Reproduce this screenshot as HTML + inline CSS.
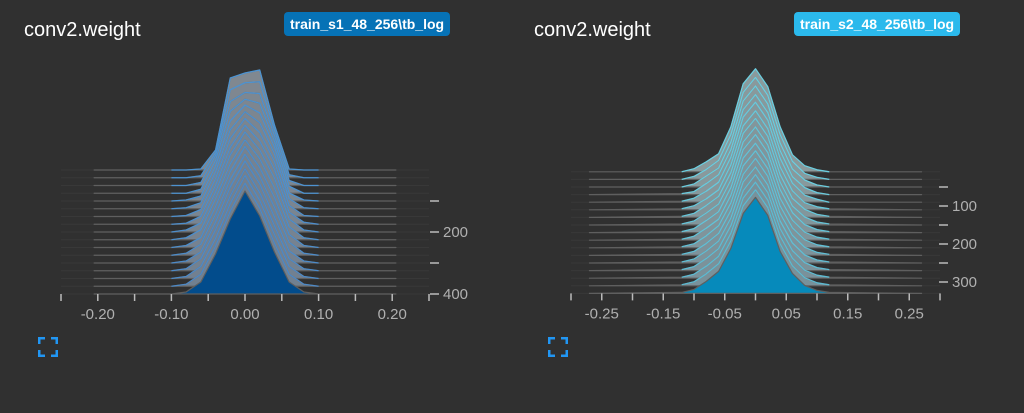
<!DOCTYPE html>
<html><head><meta charset="utf-8"><style>
html,body{margin:0;padding:0;background:#303030;width:1024px;height:413px;overflow:hidden;font-family:"Liberation Sans",sans-serif}
.title{position:absolute;top:19px;color:#fff;font-size:20px}
.badge{position:absolute;top:12px;height:24px;line-height:24px;padding:0 6px;border-radius:4px;color:#fff;font-weight:bold;font-size:14px}
.expand{position:absolute;top:337px;width:20px;height:20px}
svg{position:absolute;left:0;top:0}
</style></head><body>
<div class="title" style="left:24px">conv2.weight</div>
<div class="badge" style="left:284px;background:#0672b6">train_s1_48_256\tb_log</div>
<div class="title" style="left:534px">conv2.weight</div>
<div class="badge" style="left:794px;background:#2bb9ec">train_s2_48_256\tb_log</div>
<svg class="expand" style="left:38px" viewBox="0 0 20 20"><path d="M1 7V1h6M13 1h6v6M19 13v6h-6M7 19H1v-6" fill="none" stroke="#2196f3" stroke-width="3"/></svg>
<svg class="expand" style="left:548px" viewBox="0 0 20 20"><path d="M1 7V1h6M13 1h6v6M19 13v6h-6M7 19H1v-6" fill="none" stroke="#2196f3" stroke-width="3"/></svg>
<svg id="chart" width="1024" height="413"></svg>
<script>
// ---- Left chart data ----
const leftBins = [-0.10,-0.08,-0.06,-0.04,-0.02,0.00,0.02,0.04,0.06,0.08,0.10];
const leftSteps = [0,25,50,75,100,125,150,175,200,225,250,275,300,325,350,375,400];
const leftCounts = [
 [0,0,1,20,92,97,100,45,1,0,0],
 [0,0,2,25,88,95,96,48,3,0,0],
 [0,0,3,30,84,93,92,50,5,0,0],
 [0,0,4,33,82,94,90,52,7,0,0],
 [0,1,5,35,80,96,88,54,8,1,0],
 [0,1,6,37,79,97,86,55,10,1,0],
 [0,1,7,38,78,98,84,55,11,1,0],
 [0,1,8,39,77,99,83,55,12,2,0],
 [0,2,9,40,77,100,82,54,13,2,0],
 [0,2,10,41,76,100,81,52,13,2,0],
 [0,2,10,41,76,101,80,50,13,2,0],
 [0,2,11,41,76,101,79,48,13,2,0],
 [0,2,11,41,76,102,79,46,12,2,0],
 [0,2,12,41,75,102,78,45,12,2,0],
 [0,2,12,40,75,103,78,44,12,2,0],
 [0,2,12,40,75,103,78,43,12,2,0],
 [0,2,12,40,75,103,78,42,12,2,0]
];
const leftXTicks = [-0.20,-0.10,0.00,0.10,0.20];
const leftXTickLabels = ["-0.20","-0.10","0.00","0.10","0.20"];
const leftYTicks = [100,200,300,400];
const leftYTickLabels = ["","200","","400"];
// ---- Right chart data ----
const rightBins = [-0.12,-0.10,-0.08,-0.06,-0.04,-0.02,0.00,0.02,0.04,0.06,0.08,0.10,0.12];
const rightSteps = [10,30,50,70,90,110,130,150,170,190,210,230,250,270,290,310,330];
const rightCounts = [
 [0,3,10,18,45,88,103,85,45,17,6,2,0],
 [0,3,10,19,45,87,102,84,45,18,6,2,0],
 [0,3,11,19,45,86,101,83,44,18,7,2,0],
 [1,3,11,20,45,85,100,82,44,18,7,2,0],
 [1,4,11,20,45,85,100,82,44,19,7,3,0],
 [1,4,11,20,45,84,99,81,43,19,7,3,1],
 [1,4,12,21,45,84,99,81,43,19,8,3,1],
 [1,4,12,21,45,83,98,80,43,19,8,3,1],
 [1,4,12,21,45,83,98,80,43,20,8,3,1],
 [1,4,12,21,45,82,97,79,42,20,8,3,1],
 [1,4,12,22,45,82,97,79,42,20,8,3,1],
 [1,4,12,22,45,81,97,79,42,20,8,3,1],
 [1,4,12,22,45,81,96,78,42,20,8,3,1],
 [1,4,12,22,45,80,96,78,42,20,8,3,1],
 [1,4,12,22,45,80,96,78,42,20,8,3,1],
 [1,4,12,22,45,80,96,78,42,20,8,3,1],
 [1,4,12,22,45,80,96,78,42,20,8,3,1]
];
const rightXTicks = [-0.25,-0.15,-0.05,0.05,0.15,0.25];
const rightXTickLabels = ["-0.25","-0.15","-0.05","0.05","0.15","0.25"];
const rightYTicks = [50,100,150,200,250,300];
const rightYTickLabels = ["","100","","200","","300"];

const NS="http://www.w3.org/2000/svg";
const svg=document.getElementById('chart');
function mk(tag,attrs){const e=document.createElementNS(NS,tag);for(const k in attrs)e.setAttribute(k,attrs[k]);svg.appendChild(e);return e;}
function mix(a,b,t){const p=s=>[1,3,5].map(i=>parseInt(s.substr(i,2),16));const A=p(a),B=p(b);return 'rgb('+A.map((v,i)=>Math.round(v+(B[i]-v)*t)).join(',')+')';}

function drawChart(cfg){
  const xs=v=>cfg.x0+(v-cfg.d0)/(cfg.d1-cfg.d0)*(cfg.x1-cfg.x0);
  const ys=s=>cfg.yBase0+(s-cfg.s0)*cfg.yPer;
  const hs=c=>c*cfg.hScale;
  const n=cfg.steps.length;
  for(let i=0;i<n;i++){
    const base=ys(cfg.steps[i]);
    const t=i/(n-1);
    const bg=mk('line',{x1:xs(cfg.d0),x2:xs(cfg.d1),y1:base,y2:base,stroke:'#383838','stroke-width':1});
    
    
    let pts=[[xs(-cfg.range),base]];
    cfg.bins.forEach((b,j)=>pts.push([xs(b),base-hs(cfg.counts[i][j])]));
    pts.push([xs(cfg.range),base]);
    const last=i===n-1;
    const poly=mk('polygon',{points:pts.map(p=>p.join(',')).join(' '),
      fill:last?cfg.front:mix(cfg.backFill,cfg.midFill,t),
      stroke:'#5f5f5f','stroke-width':1.2,'stroke-linejoin':'round'});
    
    
    if(!last){
      const curve=pts.slice(1,-1);
      const pl=mk('polyline',{points:curve.map(p=>p.join(',')).join(' '),fill:'none',
        stroke:mix(cfg.backStroke,cfg.midStroke,t),'stroke-width':1.3,'stroke-opacity':0.85,'stroke-linejoin':'round'});
      
      
    }
  }
  const axisY=ys(cfg.axisStep);
  cfg.minorX.forEach(v=>{const l=mk('line',{x1:xs(v),x2:xs(v),y1:axisY,y2:axisY+7,stroke:'#bbb','stroke-width':1.5});
    });
  cfg.xt.forEach((v,i)=>{const tx=mk('text',{x:xs(v),y:axisY+25,fill:'#b0b0b0','font-size':15,'text-anchor':'middle','font-family':'Liberation Sans, sans-serif'});
    tx.textContent=cfg.xl[i];});
  const yx=cfg.yAxisX;
  cfg.yt.forEach((s,i)=>{const y=ys(s);const l=mk('line',{x1:yx,x2:yx+9,y1:y,y2:y,stroke:'#bbb','stroke-width':1.5});
    
    if(cfg.yl[i]){const tx=mk('text',{x:yx+13,y:y+5,fill:'#b0b0b0','font-size':15,'font-family':'Liberation Sans, sans-serif'});
      tx.textContent=cfg.yl[i];}});
}
drawChart({x0:61,x1:429,d0:-0.25,d1:0.25,range:0.205,bins:leftBins,steps:leftSteps,counts:leftCounts,
  s0:0,yBase0:170,yPer:0.31,hScale:1.0,sEnd:400,axisStep:400,yAxisX:430,
  minorX:[-0.25,-0.20,-0.15,-0.10,-0.05,0,0.05,0.10,0.15,0.20,0.25],xt:leftXTicks,xl:leftXTickLabels,yt:leftYTicks,yl:leftYTickLabels,
  front:'#024c8c',backFill:'#808890',midFill:'#707f90',backStroke:'#4a9de6',midStroke:'#4a90d8'});
drawChart({x0:571,x1:940,d0:-0.30,d1:0.30,range:0.27,bins:rightBins,steps:rightSteps,counts:rightCounts,
  s0:0,yBase0:168,yPer:0.38,hScale:1.0,sEnd:330,axisStep:330,yAxisX:939,
  minorX:[-0.30,-0.25,-0.20,-0.15,-0.10,-0.05,0,0.05,0.10,0.15,0.20,0.25,0.30],xt:rightXTicks,xl:rightXTickLabels,yt:rightYTicks,yl:rightYTickLabels,
  front:'#068abb',backFill:'#8a9a9c',midFill:'#78909a',backStroke:'#6fe3f7',midStroke:'#5cc8e4'});
</script>
</body></html>
